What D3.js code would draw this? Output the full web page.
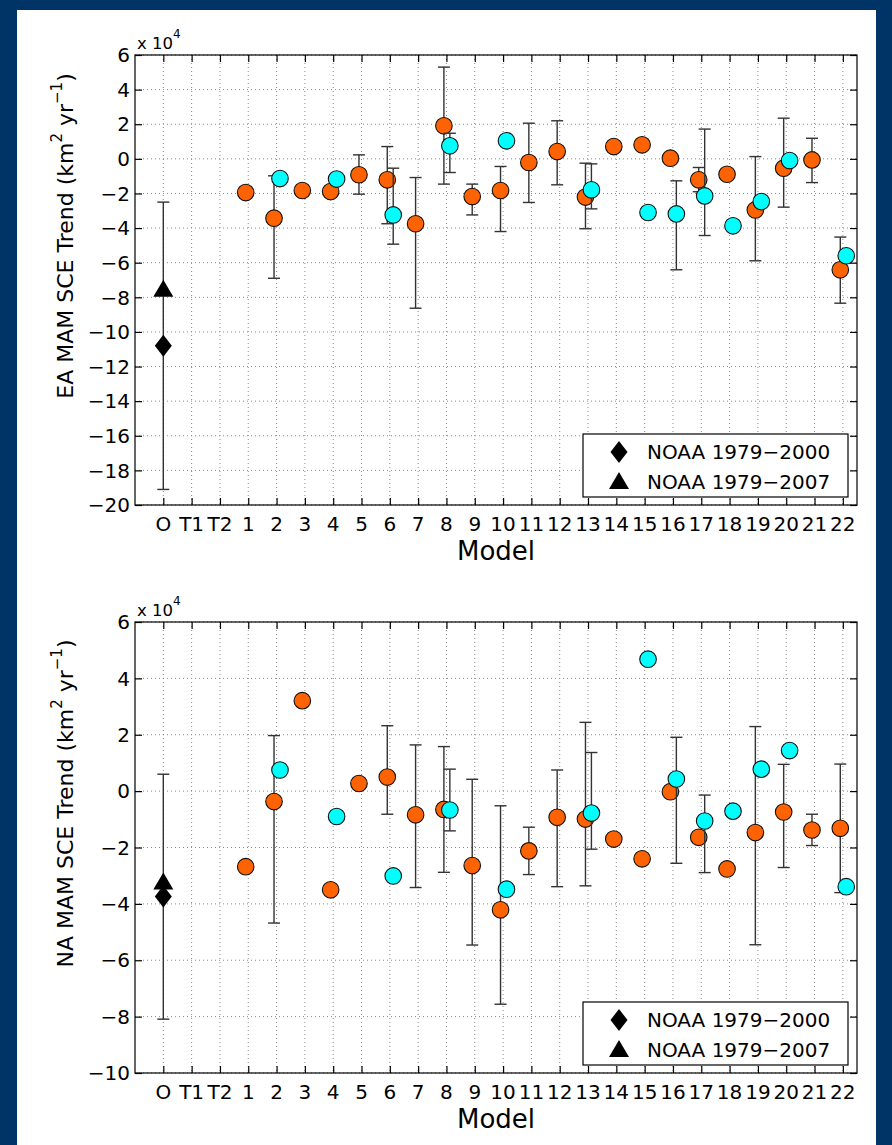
<!DOCTYPE html>
<html lang="en">
<head>
	<meta charset="utf-8" />
	<title>MAM SCE trends</title>
	<script src="https://cdnjs.cloudflare.com/ajax/libs/d3/7.8.5/d3.min.js"></script>
	<style>
		body { margin: 0; background: #003366; }
		svg { display: block; font-family: "DejaVu Sans", sans-serif; }
	</style>
</head>
<body>
	<svg width="892" height="1145"></svg>
	<script>
		// x categories: obs, two blank slots, then models 1..22
		const xLabels = ["O", "T1", "T2"].concat(d3.range(1, 23).map(String));
		const eaTicks = d3.range(-20, 7, 2);
		const naTicks = d3.range(-10, 7, 2);

		// values in units of 10^4 km^2 / yr, index 0 = model 1
		const eaObs = { d2000: -10.8, d2007: -7.5, hi: -2.5, lo: -19.1 };
		const eaOrange   = [-1.95, -3.43, -1.83, -1.89, -0.92, -1.21, -3.75, 1.91, -2.18, -1.83, -0.21, 0.42, -2.21, 0.71, 0.81, 0.04, -1.21, -0.89, -2.95, -0.54, -0.06, -6.41];
		const eaOrangeHi = [null, -0.98, null, null, 0.23, 0.71, -1.08, 5.3, -1.46, -0.44, 2.06, 2.2, -0.25, null, null, null, -0.5, null, 0.13, 2.35, 1.19, -4.52];
		const eaOrangeLo = [null, -6.9, null, null, -2.04, -3.75, -8.63, -1.46, -3.24, -4.2, -2.52, -1.5, -4.04, null, null, null, -1.9, null, -5.89, -2.79, -1.37, -8.34];
		const eaCyan   = [null, -1.14, null, -1.17, null, -3.24, null, 0.75, null, 1.04, null, null, -1.79, null, -3.1, -3.18, -2.14, -3.87, -2.47, -0.1, null, -5.6];
		const eaCyanHi = [null, null, null, null, null, -0.54, null, 1.48, null, null, null, null, -0.29, null, null, -1.27, 1.72, null, null, null, null, null];
		const eaCyanLo = [null, null, null, null, null, -4.93, null, -0.79, null, null, null, null, -2.89, null, null, -6.41, -4.43, null, null, null, null, null];

		const naObs = { d2000: -3.74, d2007: -3.21, hi: 0.6, lo: -8.09 };
		const naOrange   = [-2.68, -0.37, 3.21, -3.5, 0.27, 0.5, -0.84, -0.65, -2.64, -4.21, -2.12, -0.93, -0.99, -1.7, -2.4, -0.02, -1.64, -2.76, -1.47, -0.74, -1.38, -1.32];
		const naOrangeHi = [null, 1.97, null, null, null, 2.32, 1.64, 1.58, 0.42, -0.52, -1.28, 0.75, 2.44, null, null, null, null, null, 2.29, 0.95, -0.82, 0.96];
		const naOrangeLo = [null, -4.68, null, null, null, -0.82, -3.42, -2.88, -5.46, -7.56, -2.96, -3.39, -3.36, null, null, null, null, null, -5.45, -2.71, -1.93, -3.6];
		const naCyan   = [null, 0.75, null, -0.9, null, -3.01, null, -0.67, null, -3.48, null, null, -0.78, null, 4.68, 0.43, -1.06, -0.71, 0.78, 1.44, null, -3.39];
		const naCyanHi = [null, null, null, null, null, null, null, 0.78, null, null, null, null, 1.37, null, null, 1.91, -0.14, null, null, null, null, null];
		const naCyanLo = [null, null, null, null, null, null, null, -1.41, null, null, null, null, -2.06, null, null, -2.56, -2.89, null, null, null, null, null];

		const legendLabels = ["NOAA 1979\u22122000", "NOAA 1979\u22122007"];

		let svg = d3.select('svg');

		svg.append('rect')
			.attr('x', 17).attr('y', 10)
			.attr('width', 859).attr('height', 1140)
			.attr('fill', 'white');

		let x = d3.scaleLinear().domain([-1, 24.5]).range([135, 857]);

		const diamond = 'M0,-11L8.5,0L0,11L-8.5,0Z';
		const triangle = 'M0,-9L10,8L-10,8Z';

		function panel(top, bottom, ydom, ticks, obs, orange, oHi, oLo, cyan, cHi, cLo, ylab) {
			let y = d3.scaleLinear().domain(ydom).range([bottom, top]);
			let g = svg.append('g');
			let x0 = x.range()[0], x1 = x.range()[1];

			// dotted grid
			g.selectAll('line.gx').data(d3.range(0, 25)).enter().append('line')
				.attr('x1', d => x(d)).attr('x2', d => x(d))
				.attr('y1', top).attr('y2', bottom)
				.attr('stroke', '#8a8a8a').attr('stroke-dasharray', '1,3');
			g.selectAll('line.gy').data(ticks).enter().append('line')
				.attr('x1', x0).attr('x2', x1)
				.attr('y1', d => y(d)).attr('y2', d => y(d))
				.attr('stroke', '#8a8a8a').attr('stroke-dasharray', '1,3');

			// box + inward ticks on all sides
			g.append('rect').attr('x', x0).attr('y', top)
				.attr('width', x1 - x0).attr('height', bottom - top)
				.attr('fill', 'none').attr('stroke', 'black').attr('stroke-width', 1.2);
			g.append('g').attr('transform', `translate(0,${bottom})`)
				.call(d3.axisBottom(x).tickValues(d3.range(0, 25)).tickSize(-7).tickFormat(''));
			g.append('g').attr('transform', `translate(0,${top})`)
				.call(d3.axisTop(x).tickValues(d3.range(0, 25)).tickSize(-7).tickFormat(''));
			g.append('g').attr('transform', `translate(${x0},0)`)
				.call(d3.axisLeft(y).tickValues(ticks).tickSize(-7).tickFormat(''));
			g.append('g').attr('transform', `translate(${x1},0)`)
				.call(d3.axisRight(y).tickValues(ticks).tickSize(-7).tickFormat(''));
			g.selectAll('.domain').remove();
			g.selectAll('.tick line').attr('stroke', 'black').attr('stroke-width', 1.2);

			// tick labels
			g.selectAll('text.xl').data(xLabels).enter().append('text')
				.attr('x', (d, i) => x(i)).attr('y', bottom + 26)
				.attr('text-anchor', 'middle').attr('font-size', 20)
				.text(d => d);
			g.selectAll('text.yl').data(ticks).enter().append('text')
				.attr('x', x0 - 5).attr('y', d => y(d)).attr('dy', '0.36em')
				.attr('text-anchor', 'end').attr('font-size', 20)
				.text(d => d3.format('d')(d));

			// exponent label
			let ex = g.append('text').attr('x', x0 + 2).attr('y', top - 6).attr('font-size', 16.5);
			ex.append('tspan').text('x 10');
			ex.append('tspan').attr('dy', -11).attr('font-size', 12).text('4');

			g.append('text').attr('x', (x0 + x1) / 2).attr('y', bottom + 55)
				.attr('text-anchor', 'middle').attr('font-size', 26).text('Model');

			let yl = g.append('text')
				.attr('transform', `translate(73,${(top + bottom) / 2 - 44}) rotate(-90)`)
				.attr('text-anchor', 'middle').attr('font-size', 22);
			yl.append('tspan').text(ylab + ' Trend (km');
			yl.append('tspan').attr('dy', -11).attr('font-size', 15).text('2');
			yl.append('tspan').attr('dy', 11).text(' yr');
			yl.append('tspan').attr('dy', -11).attr('font-size', 15).text('\u22121');
			yl.append('tspan').attr('dy', 11).text(')');

			// error bars then markers
			function bars(hi, lo, off) {
				let rows = hi.map((h, i) => ({ i: i + 3, hi: h, lo: lo[i] })).filter(d => d.hi !== null);
				let b = g.append('g').attr('stroke', '#333').attr('stroke-width', 1.4);
				rows.forEach(d => {
					let cx = x(d.i + off);
					b.append('line').attr('x1', cx).attr('x2', cx).attr('y1', y(d.hi)).attr('y2', y(d.lo));
					b.append('line').attr('x1', cx - 6).attr('x2', cx + 6).attr('y1', y(d.hi)).attr('y2', y(d.hi));
					b.append('line').attr('x1', cx - 6).attr('x2', cx + 6).attr('y1', y(d.lo)).attr('y2', y(d.lo));
				});
			}
			function dots(vals, off, color) {
				let rows = vals.map((v, i) => ({ i: i + 3, v: v })).filter(d => d.v !== null);
				g.selectAll(null).data(rows).enter().append('circle')
					.attr('cx', d => x(d.i + off)).attr('cy', d => y(d.v)).attr('r', 8.3)
					.attr('fill', color).attr('stroke', '#111').attr('stroke-width', 1.1);
			}
			bars([obs.hi], [obs.lo], -3);
			bars(oHi, oLo, -0.09);
			dots(orange, -0.09, '#ff6200');
			bars(cHi, cLo, 0.12);
			dots(cyan, 0.12, '#00ffff');

			g.append('path').attr('d', triangle).attr('transform', `translate(${x(0)},${y(obs.d2007)})`);
			g.append('path').attr('d', diamond).attr('transform', `translate(${x(0)},${y(obs.d2000)})`);

			// legend
			let lx = x1 - 9, ly = bottom - 8;
			let lg = g.append('g').attr('transform', `translate(${lx - 265},${ly - 63})`);
			lg.append('rect').attr('width', 265).attr('height', 63)
				.attr('fill', 'white').attr('stroke', 'black').attr('stroke-width', 1.2);
			lg.append('path').attr('d', diamond).attr('transform', 'translate(36,18)');
			lg.append('path').attr('d', triangle).attr('transform', 'translate(36,47)');
			lg.selectAll('text').data(legendLabels).enter().append('text')
				.attr('x', 64).attr('y', (d, i) => 18 + i * 30).attr('dy', '0.36em')
				.attr('font-size', 20).text(d => d);
		}

		panel(55, 505, [-20, 6], eaTicks, eaObs, eaOrange, eaOrangeHi, eaOrangeLo, eaCyan, eaCyanHi, eaCyanLo, 'EA MAM SCE');
		panel(622, 1073, [-10, 6], naTicks, naObs, naOrange, naOrangeHi, naOrangeLo, naCyan, naCyanHi, naCyanLo, 'NA MAM SCE');
	</script>
</body>
</html>
